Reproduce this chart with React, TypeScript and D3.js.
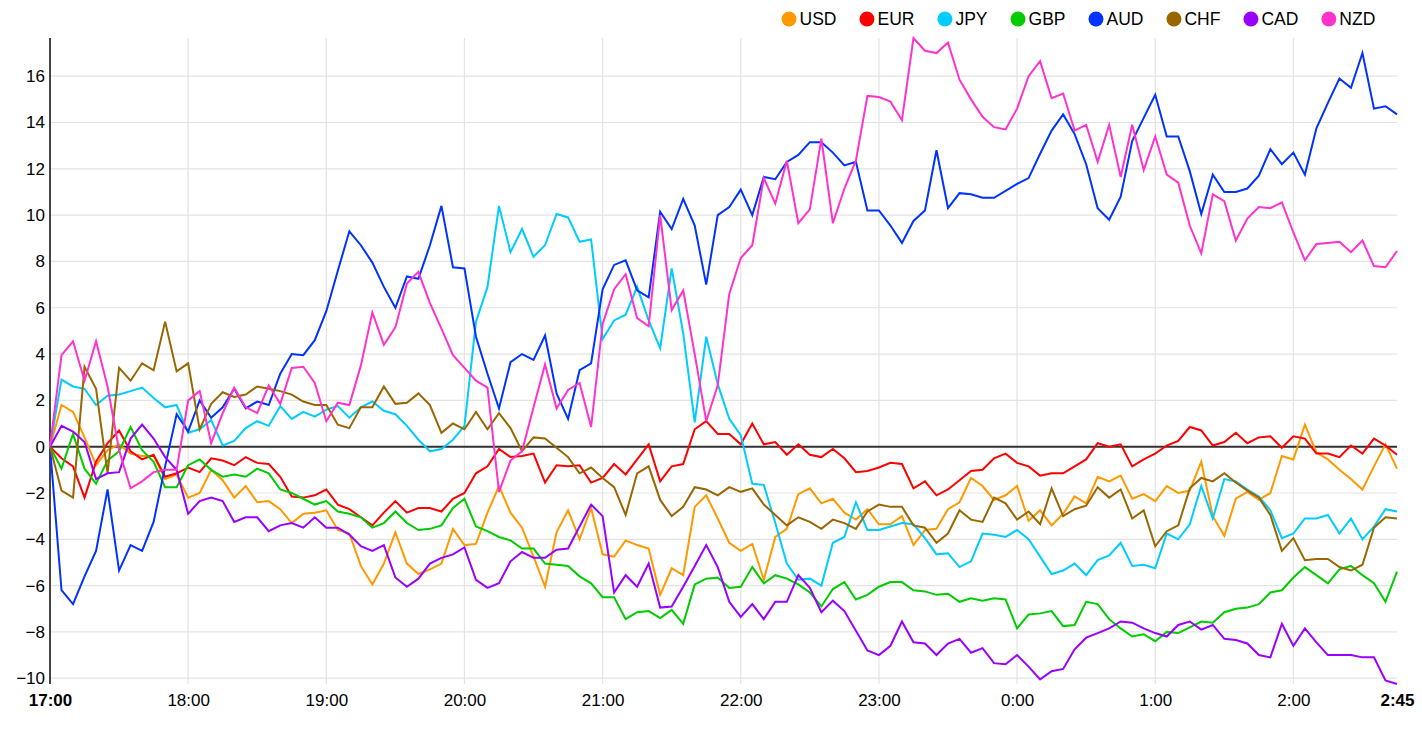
import React, { useEffect, useRef } from 'react';
import * as d3 from 'd3';

// currency strength, one value every 5 minutes from 17:00 to 2:45
const currencies = ["USD", "EUR", "JPY", "GBP", "AUD", "CHF", "CAD", "NZD"];
const colors = ["#ff9900", "#ff0000", "#00ccff", "#00cc00", "#0033ff", "#996600", "#9900ff", "#ff33cc"];

const startTime = new Date(2024, 0, 1, 17, 0);
const stepMinutes = 5;

const usd = [
  0, 1.8, 1.5, 0.4, -0.8, -0.15, 0.1, -0.3, -0.4, -0.4, -1.4, -1.2, -2.2, -2.0, -1.0, -1.45, -2.2, -1.7, -2.4, -2.35,
  -2.7, -3.3, -2.9, -2.85, -2.75, -3.6, -3.75, -5.15, -5.95, -5.05, -3.7, -5.05, -5.5, -5.3, -5.05, -3.55, -4.25, -4.2, -2.85, -1.7,
  -2.85, -3.5, -4.75, -6.05, -3.7, -2.75, -4.0, -2.65, -4.65, -4.75, -4.05, -4.25, -4.4, -6.4, -5.25, -5.55, -2.6, -2.1, -3.1, -4.15,
  -4.5, -4.2, -5.75, -3.9, -3.55, -2.05, -1.8, -2.45, -2.25, -2.85, -3.15, -2.7, -3.35, -3.35, -3.0, -4.25, -3.6, -3.55, -2.7, -2.4,
  -1.35, -1.7, -2.3, -2.1, -1.7, -3.2, -2.75, -3.4, -2.9, -2.15, -2.45, -1.3, -1.5, -1.25, -2.25, -2.05, -2.35, -1.7, -2.0, -1.9,
  -0.65, -3.0, -3.85, -2.25, -1.95, -2.3, -2.0, -0.4, -0.55, 0.95, -0.25, -0.55, -1.0, -1.4, -1.85, -0.85, 0.1, -0.95,
];
const eur = [
  0, -0.5, -0.85, -2.2, -0.65, 0.15, 0.7, -0.2, -0.55, -0.35, -1.3, -1.15, -0.9, -1.1, -0.5, -0.6, -0.8, -0.45, -0.7, -0.75,
  -1.3, -2.15, -2.2, -2.1, -1.85, -2.5, -2.7, -3.05, -3.4, -2.85, -2.35, -2.85, -2.65, -2.65, -2.8, -2.25, -2.0, -1.15, -0.85, -0.1,
  -0.45, -0.4, -0.3, -1.55, -0.8, -0.85, -0.8, -1.55, -1.35, -0.75, -1.2, -0.55, 0.1, -1.5, -0.85, -0.75, 0.75, 1.1, 0.55, 0.55,
  0.1, 1.0, 0.1, 0.2, -0.35, 0.1, -0.35, -0.45, -0.1, -0.5, -1.1, -1.05, -0.9, -0.7, -0.75, -1.8, -1.5, -2.1, -1.85, -1.45,
  -1.05, -1.0, -0.5, -0.3, -0.7, -0.85, -1.25, -1.15, -1.15, -0.85, -0.55, 0.15, 0.0, 0.1, -0.85, -0.55, -0.3, 0.05, 0.25, 0.85,
  0.7, 0.05, 0.2, 0.6, 0.15, 0.4, 0.45, -0.05, 0.45, 0.35, -0.3, -0.3, -0.45, 0.05, -0.3, 0.35, 0.05, -0.35,
];
const jpy = [
  0, 2.9, 2.6, 2.5, 1.8, 2.2, 2.25, 2.4, 2.55, 2.1, 1.7, 1.8, 0.6, 0.75, 1.15, 0.05, 0.25, 0.8, 1.1, 0.9,
  1.75, 1.2, 1.5, 1.3, 1.6, 1.75, 1.25, 1.7, 1.95, 1.55, 1.4, 0.9, 0.3, -0.2, -0.1, 0.3, 0.9, 5.4, 6.9, 10.4,
  8.4, 9.4, 8.2, 8.7, 10.05, 9.9, 8.85, 8.95, 4.65, 5.45, 5.7, 6.9, 5.45, 4.25, 7.7, 4.9, 1.05, 4.75, 2.7, 1.2,
  0.5, -1.6, -1.65, -3.3, -5.05, -5.75, -5.7, -6.0, -4.15, -3.9, -2.4, -3.6, -3.6, -3.45, -3.3, -3.35, -3.95, -4.65, -4.6, -5.2,
  -4.95, -3.75, -3.8, -3.9, -3.6, -4.0, -4.75, -5.5, -5.35, -5.05, -5.55, -4.9, -4.7, -4.15, -5.15, -5.1, -5.25, -3.75, -4.0, -3.35,
  -1.7, -3.1, -1.4, -1.5, -1.85, -2.15, -2.75, -3.95, -3.75, -3.1, -3.1, -2.95, -3.75, -3.1, -4.0, -3.45, -2.7, -2.8,
];
const gbp = [
  0, -0.95, 0.55, -0.95, -1.6, -0.6, -0.2, 0.85, -0.15, -0.65, -1.75, -1.75, -0.8, -0.55, -1.0, -1.3, -1.2, -1.3, -0.95, -1.15,
  -1.85, -2.0, -2.25, -2.5, -2.35, -2.8, -2.9, -3.05, -3.5, -3.3, -2.8, -3.3, -3.6, -3.55, -3.4, -2.65, -2.25, -3.45, -3.65, -3.9,
  -4.05, -4.4, -4.4, -5.05, -5.1, -5.15, -5.6, -5.9, -6.5, -6.5, -7.45, -7.15, -7.1, -7.4, -7.05, -7.65, -5.95, -5.7, -5.65, -6.1,
  -6.05, -5.2, -5.9, -5.55, -5.7, -5.95, -6.3, -6.9, -6.15, -5.85, -6.6, -6.4, -6.05, -5.85, -5.85, -6.2, -6.25, -6.4, -6.35, -6.7,
  -6.55, -6.65, -6.55, -6.6, -7.85, -7.25, -7.2, -7.1, -7.75, -7.7, -6.7, -6.8, -7.45, -7.85, -8.2, -8.1, -8.4, -8.0, -8.05, -7.8,
  -7.55, -7.6, -7.15, -7.0, -6.95, -6.8, -6.3, -6.2, -5.65, -5.2, -5.55, -5.9, -5.3, -5.15, -5.55, -5.9, -6.7, -5.4,
];
const aud = [
  0, -6.2, -6.8, -5.6, -4.5, -1.85, -5.35, -4.25, -4.5, -3.25, -0.85, 1.4, 0.65, 2.0, 1.25, 1.7, 2.5, 1.65, 1.95, 1.8,
  3.15, 4.0, 3.95, 4.6, 5.85, 7.6, 9.3, 8.7, 7.95, 6.9, 6.0, 7.35, 7.25, 8.7, 10.4, 7.75, 7.7, 4.75, 3.15, 1.65,
  3.65, 4.0, 3.75, 4.8, 2.3, 1.2, 3.3, 3.6, 6.8, 7.85, 8.05, 6.75, 6.45, 10.15, 9.4, 10.7, 9.55, 7.0, 10.0, 10.35,
  11.1, 10.0, 11.65, 11.55, 12.3, 12.6, 13.15, 13.15, 12.7, 12.15, 12.3, 10.2, 10.2, 9.55, 8.8, 9.75, 10.2, 12.8, 10.3, 10.95,
  10.9, 10.75, 10.75, 11.05, 11.35, 11.6, 12.65, 13.65, 14.35, 13.5, 12.2, 10.3, 9.8, 10.8, 13.2, 14.2, 15.2, 13.4, 13.4, 11.9,
  10.05, 11.75, 11.0, 11.0, 11.15, 11.7, 12.85, 12.2, 12.7, 11.75, 13.75, 14.85, 15.9, 15.5, 17.0, 14.6, 14.7, 14.35,
];
const chf = [
  0, -1.9, -2.2, 3.45, 2.5, -1.15, 3.4, 2.85, 3.6, 3.3, 5.4, 3.25, 3.6, 0.75, 1.85, 2.35, 2.15, 2.25, 2.6, 2.5,
  2.4, 2.25, 1.95, 1.8, 1.8, 0.95, 0.8, 1.7, 1.7, 2.6, 1.85, 1.9, 2.3, 1.8, 0.6, 1.0, 0.75, 1.5, 0.75, 1.45,
  0.8, -0.2, 0.4, 0.35, -0.05, -0.45, -1.15, -0.9, -1.35, -1.75, -2.95, -1.15, -0.85, -2.3, -3.0, -2.6, -1.75, -1.85, -2.1, -1.75,
  -1.95, -1.8, -2.5, -2.95, -3.4, -3.05, -3.25, -3.55, -3.15, -3.3, -3.55, -2.8, -2.5, -2.6, -2.6, -3.4, -3.5, -4.15, -3.75, -2.75,
  -3.15, -3.25, -2.2, -2.45, -3.15, -2.8, -3.35, -1.8, -3.0, -2.7, -2.55, -1.75, -2.2, -1.85, -3.1, -2.75, -4.3, -3.65, -3.4, -1.8,
  -1.35, -1.5, -1.15, -1.55, -1.9, -2.2, -2.95, -4.5, -3.95, -4.9, -4.85, -4.85, -5.2, -5.35, -5.1, -3.5, -3.05, -3.1,
];
const cad = [
  0, 0.9, 0.65, 0.2, -1.4, -1.15, -1.1, 0.35, 0.95, 0.35, -0.45, -1.0, -2.9, -2.35, -2.2, -2.35, -3.25, -3.05, -3.05, -3.65,
  -3.4, -3.3, -3.5, -3.05, -3.5, -3.5, -3.8, -4.3, -4.5, -4.25, -5.65, -6.05, -5.7, -5.05, -4.8, -4.65, -4.35, -5.75, -6.1, -5.9,
  -4.95, -4.55, -4.8, -4.8, -4.45, -4.4, -3.45, -2.5, -3.0, -6.3, -5.55, -6.05, -5.05, -6.95, -6.9, -6.05, -5.15, -4.25, -5.2, -6.7,
  -7.35, -6.8, -7.45, -6.7, -6.7, -5.55, -6.1, -7.15, -6.65, -7.1, -7.95, -8.8, -9.0, -8.6, -7.55, -8.45, -8.5, -9.0, -8.5, -8.3,
  -8.9, -8.7, -9.35, -9.4, -9.0, -9.5, -10.05, -9.7, -9.6, -8.75, -8.25, -8.05, -7.85, -7.55, -7.6, -7.85, -8.05, -8.2, -7.7, -7.55,
  -7.9, -7.7, -8.3, -8.35, -8.5, -9.0, -9.1, -7.65, -8.6, -7.85, -8.45, -9.0, -9.0, -9.0, -9.1, -9.1, -10.1, -10.25,
];
const nzd = [
  0, 3.95, 4.55, 2.85, 4.55, 2.6, -0.15, -1.8, -1.5, -1.1, -1.0, -1.0, 2.0, 2.4, 0.15, 1.45, 2.55, 1.7, 1.45, 2.65,
  1.85, 3.4, 3.45, 2.75, 1.1, 1.9, 1.8, 3.5, 5.8, 4.4, 5.15, 7.05, 7.55, 6.2, 5.1, 3.95, 3.4, 2.85, 2.55, -1.95,
  -0.6, -0.2, 1.7, 3.55, 1.65, 2.45, 2.75, 0.85, 5.3, 6.8, 7.45, 5.55, 5.2, 10.0, 5.9, 6.75, 4.0, 1.1, 2.65, 6.6,
  8.15, 8.7, 11.6, 10.5, 12.35, 9.65, 10.25, 13.3, 9.65, 11.15, 12.35, 15.15, 15.1, 14.9, 14.1, 17.65, 17.1, 17.0, 17.45, 15.85,
  15.0, 14.25, 13.8, 13.7, 14.6, 16.0, 16.65, 15.05, 15.25, 13.65, 13.9, 12.3, 13.9, 11.65, 13.9, 11.95, 13.4, 11.75, 11.4, 9.55,
  8.35, 10.9, 10.6, 8.9, 9.85, 10.35, 10.3, 10.55, 9.25, 8.05, 8.75, 8.8, 8.85, 8.4, 8.9, 7.8, 7.75, 8.45,
];

const App: React.FC = () => {
  const svgRef = useRef<SVGSVGElement>(null);

  useEffect(() => {
    if (!svgRef.current) return;
    const svg = d3.select(svgRef.current);
    svg.selectAll("*").remove();

    const width = 1422;
    const height = 748;
    const margin = { top: 38, right: 25, bottom: 64, left: 50 };

    const seriesValues = [usd, eur, jpy, gbp, aud, chf, cad, nzd];
    const series = currencies.map((name, k) => ({ name, color: colors[k], values: seriesValues[k] }));
    const times = usd.map((_, i) => d3.timeMinute.offset(startTime, i * stepMinutes));
    const endTime = times[times.length - 1];
    const all = seriesValues.flat();

    const x = d3.scaleTime()
      .domain([startTime, endTime])
      .range([margin.left, width - margin.right]);

    const y = d3.scaleLinear()
      .domain([d3.min(all) as number, d3.max(all) as number])
      .range([height - margin.bottom, margin.top]);

    const hours = d3.timeHour.range(d3.timeHour.offset(startTime, 1), endTime);
    const yTicks = y.ticks(14);

    // grid
    svg.append("g")
      .selectAll("line")
      .data(yTicks)
      .join("line")
      .attr("x1", margin.left)
      .attr("x2", width - margin.right)
      .attr("y1", d => y(d))
      .attr("y2", d => y(d))
      .attr("stroke", "#e3e3e3")
      .attr("stroke-width", 1.2);

    svg.append("g")
      .selectAll("line")
      .data(hours)
      .join("line")
      .attr("x1", d => x(d))
      .attr("x2", d => x(d))
      .attr("y1", margin.top)
      .attr("y2", height - margin.bottom)
      .attr("stroke", "#e3e3e3")
      .attr("stroke-width", 1.2);

    // zero line
    svg.append("line")
      .attr("x1", margin.left)
      .attr("x2", width - margin.right)
      .attr("y1", y(0))
      .attr("y2", y(0))
      .attr("stroke", "#333")
      .attr("stroke-width", 2);

    // axes
    const yAxis = svg.append("g")
      .attr("transform", `translate(${margin.left},0)`)
      .call(d3.axisLeft(y).tickValues(yTicks).tickSize(0).tickPadding(5));
    yAxis.select(".domain").remove();
    yAxis.selectAll("text")
      .attr("fill", "#000")
      .style("font-size", "17px")
      .style("font-family", "Arial, 'Liberation Sans', sans-serif");

    svg.append("line")
      .attr("x1", margin.left)
      .attr("x2", margin.left)
      .attr("y1", margin.top)
      .attr("y2", height - margin.bottom)
      .attr("stroke", "#444")
      .attr("stroke-width", 2);

    const xTicks = [startTime, ...hours, endTime];
    const xAxis = svg.append("g")
      .attr("transform", `translate(0,${height - margin.bottom})`)
      .call(d3.axisBottom(x).tickValues(xTicks).tickFormat(d3.timeFormat("%-H:%M") as any).tickSize(0).tickPadding(10));
    xAxis.select(".domain").remove();
    xAxis.selectAll("text")
      .attr("fill", "#000")
      .style("font-size", "17px")
      .style("font-family", "Arial, 'Liberation Sans', sans-serif")
      .style("font-weight", (_, i) => (i === 0 || i === xTicks.length - 1 ? "bold" : "normal"));

    // series lines
    const line = d3.line<number>()
      .x((_, i) => x(times[i]))
      .y(d => y(d));

    svg.append("g")
      .selectAll("path")
      .data(series)
      .join("path")
      .attr("d", d => line(d.values))
      .attr("fill", "none")
      .attr("stroke", d => d.color)
      .attr("stroke-width", 2);

    // legend
    const legend = svg.append("g").attr("transform", "translate(0,19)");
    let cx = 789;
    series.forEach(s => {
      legend.append("circle")
        .attr("cx", cx)
        .attr("cy", 0)
        .attr("r", 7.5)
        .attr("fill", s.color);
      const t = legend.append("text")
        .attr("x", cx + 10.5)
        .attr("y", 0)
        .attr("dy", "0.36em")
        .attr("fill", "#000")
        .style("font-size", "17.5px")
        .style("font-family", "Arial, 'Liberation Sans', sans-serif")
        .text(s.name);
      const w = (t.node() as SVGTextElement).getComputedTextLength();
      cx += 10.5 + w + 30.5;
    });
  }, []);

  return (
    <svg
      ref={svgRef}
      width={1422}
      height={748}
      style={{ position: "absolute", left: 0, top: 0, background: "#fff" }}
    />
  );
};

export default App;
